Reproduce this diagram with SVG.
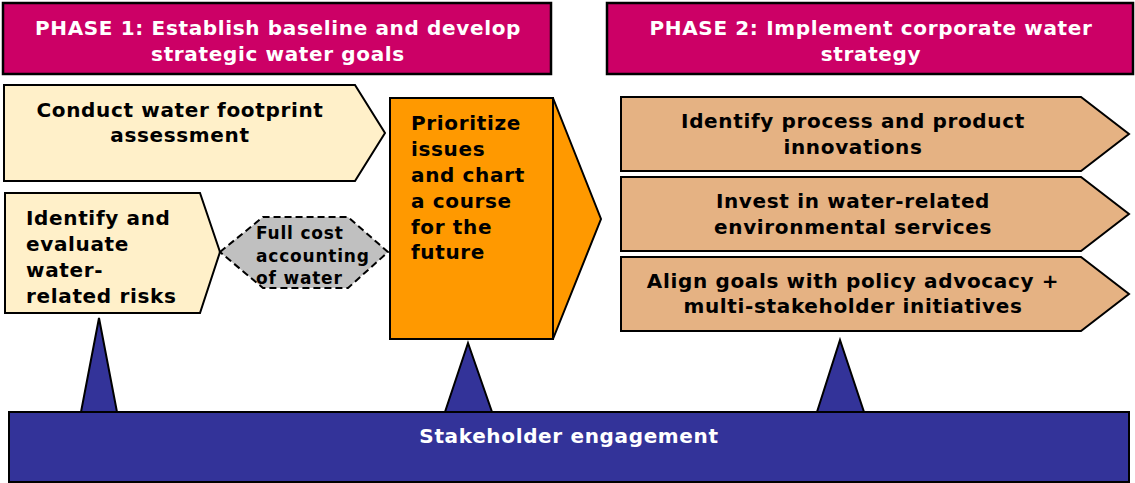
<svg xmlns="http://www.w3.org/2000/svg" width="1135" height="483" viewBox="0 0 1135 483">
<style>
.t{font-family:"DejaVu Sans","Verdana",sans-serif;font-weight:bold;font-size:20px;letter-spacing:0.65px;fill:#000}
.s{font-size:17px;letter-spacing:0.8px}
.w{fill:#fff}
.c{text-anchor:middle}
.hdr{fill:#CC0066;stroke:#000;stroke-width:2.5}
.cream{fill:#FFF0C9;stroke:#000;stroke-width:2}
.tan{fill:#E5B283;stroke:#000;stroke-width:2}
.blue{fill:#333399;stroke:#000;stroke-width:2}
</style>
<rect width="1135" height="483" fill="#fff"/>
<g id="phase1">
<rect class="hdr" x="3" y="3" width="548" height="71"/>
<text class="t w c" x="278" y="35">PHASE 1: Establish baseline and develop</text>
<text class="t w c" x="278" y="61">strategic water goals</text>
</g>
<g id="phase2">
<rect class="hdr" x="607" y="3" width="526" height="71"/>
<text class="t w c" x="871" y="35">PHASE 2: Implement corporate water</text>
<text class="t w c" x="871" y="61">strategy</text>
</g>
<g id="footprint">
<polygon class="cream" points="4,85 355,85 385,133 355,181 4,181"/>
<text class="t c" x="180" y="117">Conduct water footprint</text>
<text class="t c" x="180" y="142">assessment</text>
</g>
<g id="risks">
<polygon class="cream" points="5,193 200,193 220,252 200,313 5,313"/>
<text class="t" x="26" y="225">Identify and</text>
<text class="t" x="26" y="251">evaluate</text>
<text class="t" x="26" y="277">water-</text>
<text class="t" x="26" y="303">related risks</text>
</g>
<g id="fullcost">
<polygon points="220,252 263,217 348,217 388,252 348,288 263,288" fill="#C0C0C0" stroke="#000" stroke-width="2" stroke-dasharray="7,4"/>
<text class="t s" x="256" y="239">Full cost</text>
<text class="t s" x="256" y="262">accounting</text>
<text class="t s" x="256" y="284">of water</text>
</g>
<g id="prioritize">
<polygon points="553,98 601,219 553,339" fill="#FF9900" stroke="#000" stroke-width="2"/>
<rect x="390" y="98" width="163" height="241" fill="#FF9900" stroke="#000" stroke-width="2"/>
<text class="t" x="411" y="130">Prioritize</text>
<text class="t" x="411" y="156">issues</text>
<text class="t" x="411" y="182">and chart</text>
<text class="t" x="411" y="208">a course</text>
<text class="t" x="411" y="234">for the</text>
<text class="t" x="411" y="259">future</text>
</g>
<g id="innovations">
<polygon class="tan" points="621,97 1081,97 1129,134 1081,171 621,171"/>
<text class="t c" x="853" y="128">Identify process and product</text>
<text class="t c" x="853" y="154">innovations</text>
</g>
<g id="invest">
<polygon class="tan" points="621,177 1081,177 1129,214 1081,251 621,251"/>
<text class="t c" x="853" y="208">Invest in water-related</text>
<text class="t c" x="853" y="234">environmental services</text>
</g>
<g id="align">
<polygon class="tan" points="621,257 1081,257 1129,294 1081,331 621,331"/>
<text class="t c" x="853" y="288">Align goals with policy advocacy +</text>
<text class="t c" x="853" y="313">multi-stakeholder initiatives</text>
</g>
<g id="connectors">
<polygon class="blue" points="99,318 117,412 81,412"/>
<polygon class="blue" points="468,343 492,412 445,412"/>
<polygon class="blue" points="840,340 864,412 817,412"/>
</g>
<g id="stakeholder">
<rect class="blue" x="9" y="412" width="1120" height="70"/>
<text class="t w c" x="569" y="443">Stakeholder engagement</text>
</g>
</svg>
